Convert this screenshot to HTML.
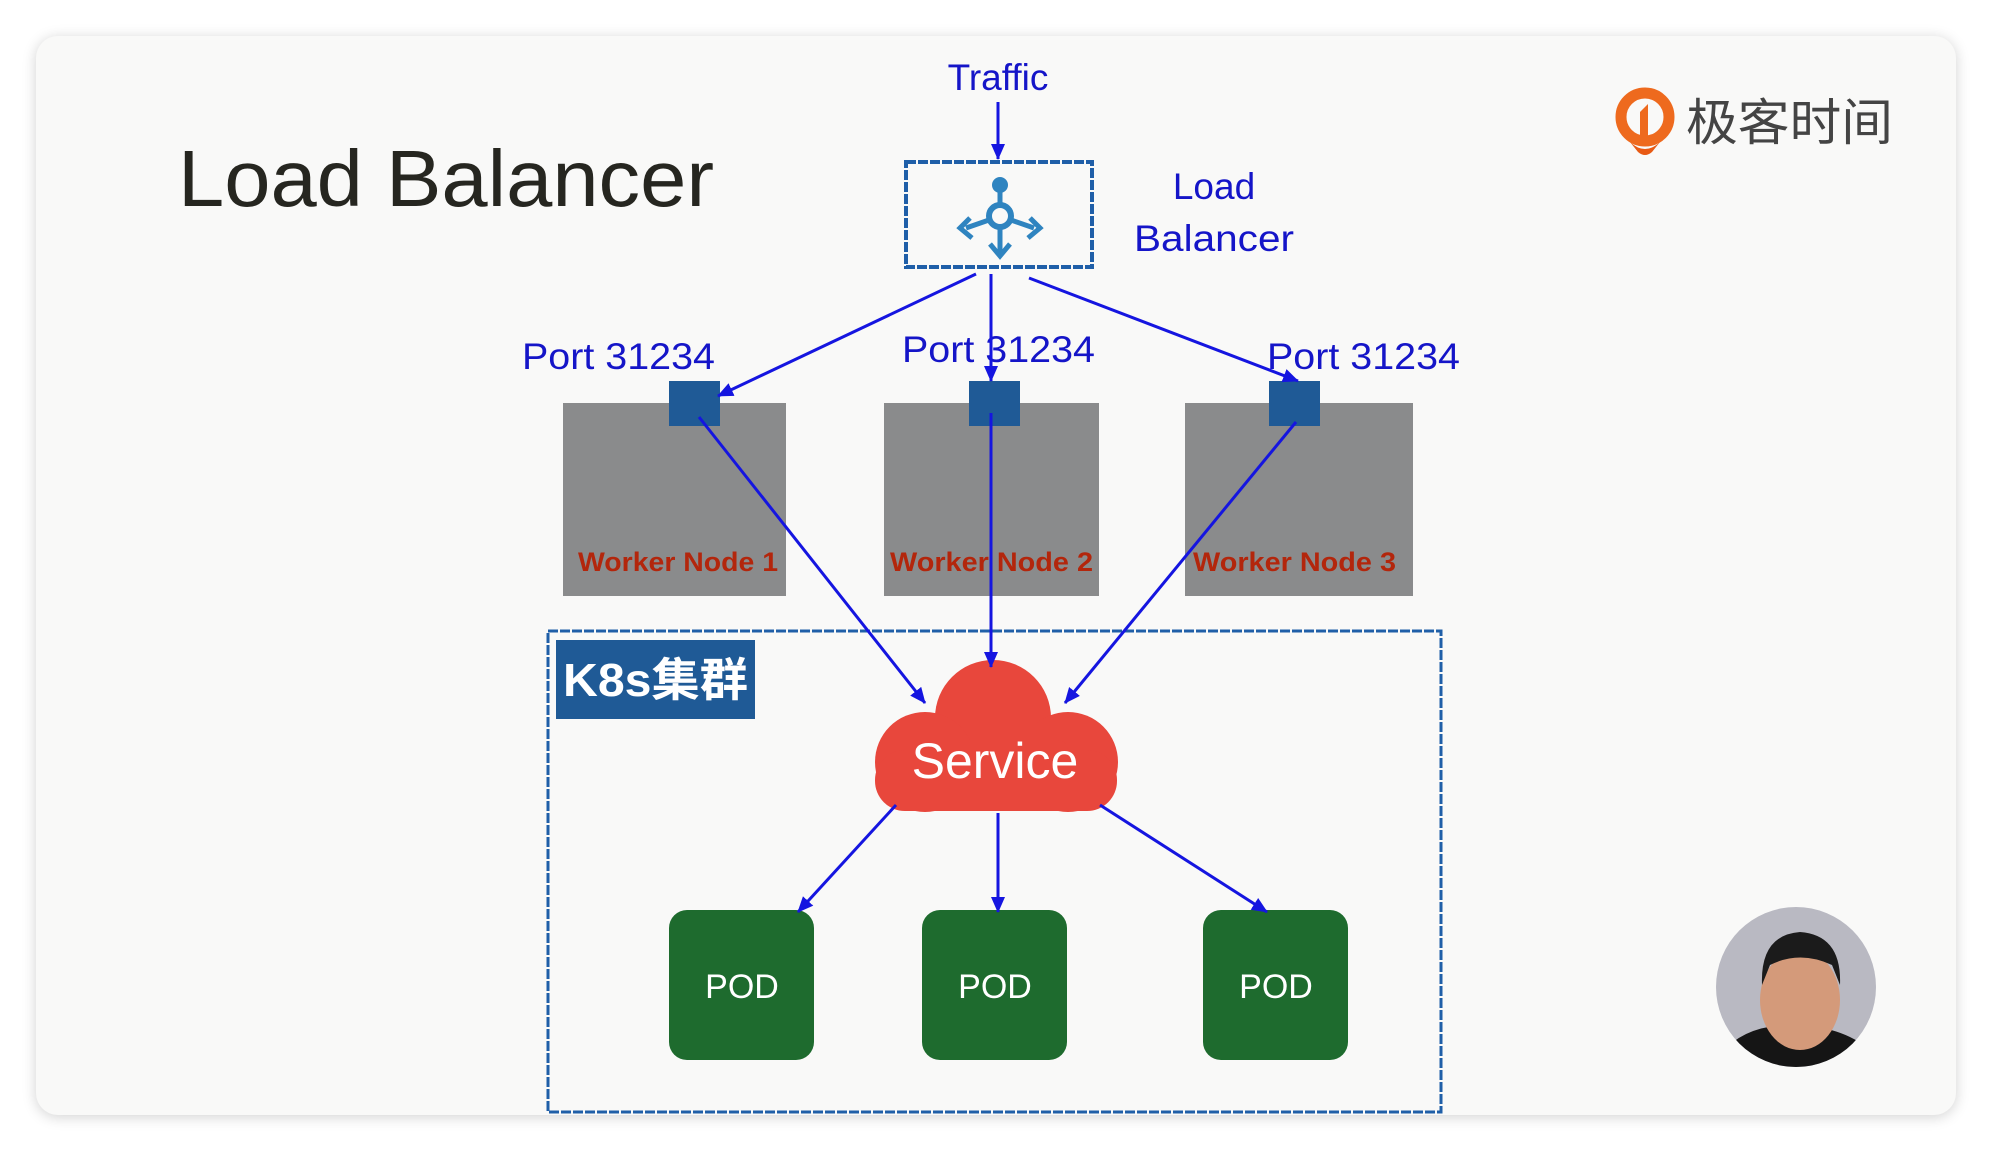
<!DOCTYPE html>
<html><head><meta charset="utf-8"><style>
html,body{margin:0;padding:0;background:#fff;width:1992px;height:1152px;overflow:hidden}
.card{position:absolute;left:36px;top:36px;width:1920px;height:1079px;background:#f9f9f8;border-radius:22px;box-shadow:0 2px 14px rgba(0,0,0,0.18)}
</style></head><body>
<div class="card"></div>
<svg width="1992" height="1152" style="position:absolute;left:0;top:0" font-family="Liberation Sans, Noto Sans CJK SC, sans-serif">
<defs>
<marker id="b" markerWidth="16" markerHeight="16" refX="15" refY="8" orient="auto" markerUnits="userSpaceOnUse"><path d="M0,1 L16,8 L0,15 z" fill="#1515e0"/></marker></defs>
<text x="178" y="206" font-size="80" fill="#262620" textLength="536" lengthAdjust="spacingAndGlyphs">Load Balancer</text>
<text x="998" y="90" font-size="37" fill="#1515c8" text-anchor="middle">Traffic</text>
<line x1="998" y1="102" x2="998" y2="159" stroke="#1515e0" stroke-width="3" marker-end="url(#b)"/>
<rect x="906" y="162" width="186" height="105" fill="none" stroke="#1f5fa8" stroke-width="4" stroke-dasharray="10 2"/>
<g fill="#2f84c0" stroke="#2f84c0">
<circle cx="1000" cy="185" r="8" stroke="none"/>
<line x1="1000" y1="185" x2="1000" y2="205" stroke-width="5"/>
<circle cx="1000" cy="216" r="11" fill="none" stroke-width="6"/>
<line x1="989" y1="220" x2="966" y2="228" stroke-width="5"/>
<line x1="1011" y1="220" x2="1034" y2="228" stroke-width="5"/>
<line x1="1000" y1="227" x2="1000" y2="252" stroke-width="5"/>
<path d="M970,218 L960,228 L972,238" fill="none" stroke-width="5"/>
<path d="M1030,218 L1040,228 L1028,238" fill="none" stroke-width="5"/>
<path d="M990,244 L1000,256 L1010,244" fill="none" stroke-width="5"/>
</g>
<text x="1214" y="199" font-size="37" fill="#1515c8" text-anchor="middle">Load</text>
<text x="1214" y="251" font-size="37" fill="#1515c8" text-anchor="middle" textLength="160" lengthAdjust="spacingAndGlyphs">Balancer</text>
<rect x="563" y="403" width="223" height="193" fill="#8a8b8c"/>
<rect x="884" y="403" width="215" height="193" fill="#8a8b8c"/>
<rect x="1185" y="403" width="228" height="193" fill="#8a8b8c"/>
<rect x="669" y="381" width="51" height="45" fill="#1f5a96"/>
<rect x="969" y="381" width="51" height="45" fill="#1f5a96"/>
<rect x="1269" y="381" width="51" height="45" fill="#1f5a96"/>
<g font-size="27" font-weight="bold" fill="#b3260c">
<text x="578" y="571" textLength="200" lengthAdjust="spacingAndGlyphs">Worker Node 1</text>
<text x="890" y="571" textLength="203" lengthAdjust="spacingAndGlyphs">Worker Node 2</text>
<text x="1193" y="571" textLength="203" lengthAdjust="spacingAndGlyphs">Worker Node 3</text>
</g>
<g font-size="37" fill="#1515c8">
<text x="522" y="369" textLength="193" lengthAdjust="spacingAndGlyphs">Port 31234</text>
<text x="902" y="362" textLength="193" lengthAdjust="spacingAndGlyphs">Port 31234</text>
<text x="1267" y="369" textLength="193" lengthAdjust="spacingAndGlyphs">Port 31234</text>
</g>
<rect x="548" y="631" width="893" height="481" fill="none" stroke="#1f5fa8" stroke-width="3" stroke-dasharray="10 2"/>
<rect x="556" y="640" width="199" height="79" fill="#1f5a96"/>
<text x="563" y="696" font-size="46" font-weight="bold" fill="#fff" textLength="185" lengthAdjust="spacingAndGlyphs">K8s集群</text>
<g fill="#e8473c">
<circle cx="993" cy="718" r="58"/>
<circle cx="925" cy="762" r="50"/>
<circle cx="1068" cy="762" r="50"/>
<rect x="925" y="740" width="143" height="71" rx="10"/>
<rect x="875" y="750" width="242" height="61" rx="30"/>
</g>
<text x="995" y="778" font-size="50" fill="#fff" text-anchor="middle">Service</text>
<rect x="669" y="910" width="145" height="150" rx="18" fill="#1e6b2e"/>
<rect x="922" y="910" width="145" height="150" rx="18" fill="#1e6b2e"/>
<rect x="1203" y="910" width="145" height="150" rx="18" fill="#1e6b2e"/>
<g font-size="34" fill="#fff" text-anchor="middle">
<text x="742" y="998">POD</text><text x="995" y="998">POD</text><text x="1276" y="998">POD</text>
</g>
<g stroke="#1515e0" stroke-width="3" fill="none">
<line x1="976" y1="274" x2="718" y2="396" marker-end="url(#b)"/>
<line x1="991" y1="274" x2="991" y2="381" marker-end="url(#b)"/>
<line x1="1029" y1="278" x2="1298" y2="381" marker-end="url(#b)"/>
<line x1="699" y1="417" x2="925" y2="703" marker-end="url(#b)"/>
<line x1="991" y1="413" x2="991" y2="667" marker-end="url(#b)"/>
<line x1="1296" y1="422" x2="1065" y2="703" marker-end="url(#b)"/>
<line x1="896" y1="805" x2="798" y2="912" marker-end="url(#b)"/>
<line x1="998" y1="813" x2="998" y2="912" marker-end="url(#b)"/>
<line x1="1100" y1="805" x2="1267" y2="912" marker-end="url(#b)"/>
</g>
<circle cx="1645" cy="117" r="24" fill="none" stroke="#ee6a1e" stroke-width="11"/>
<path d="M1630,142 Q1645,156 1660,142 L1652,152 Q1645,158 1638,152 z" fill="#e85a14"/>
<path d="M1640,112 L1648,104 L1648,140 L1640,140 z" fill="#ee6a1e"/>
<text x="1686" y="140" font-size="50" fill="#444" textLength="207" lengthAdjust="spacingAndGlyphs">极客时间</text>
<clipPath id="c"><circle cx="1796" cy="987" r="80"/></clipPath>
<g clip-path="url(#c)">
<rect x="1710" y="900" width="170" height="170" fill="#b9b9c2"/>
<path d="M1716,1060 Q1740,1025 1790,1025 Q1850,1025 1880,1060 L1880,1080 L1716,1080z" fill="#151515"/>
<ellipse cx="1800" cy="1000" rx="40" ry="50" fill="#d49a7a"/>
<path d="M1762,985 Q1760,935 1800,932 Q1842,935 1840,985 L1832,965 Q1800,950 1770,965z" fill="#1b1b1b"/>
</g>
</svg>
</body></html>
